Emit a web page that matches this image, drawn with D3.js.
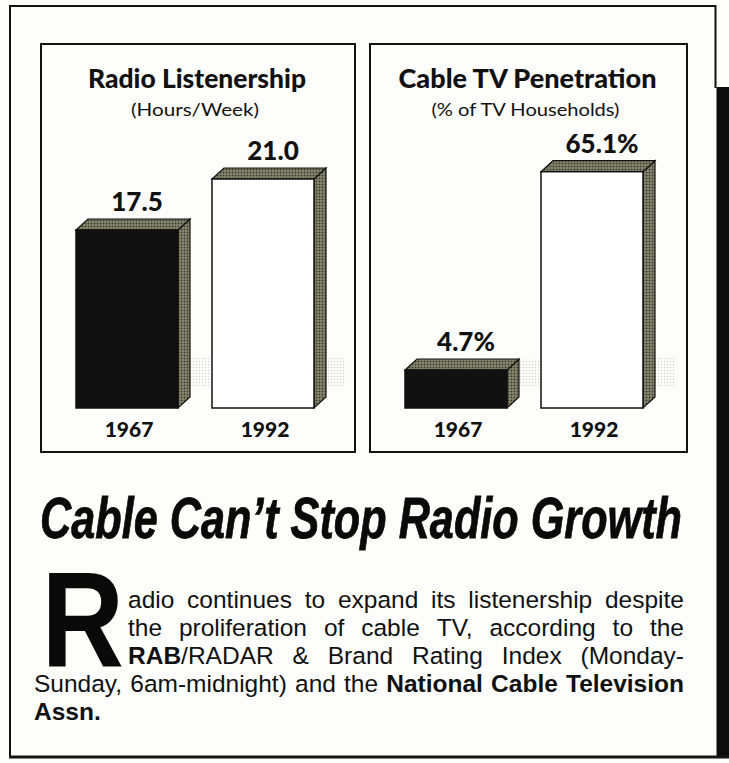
<!DOCTYPE html>
<html>
<head>
<meta charset="utf-8">
<script src="https://cdn.jsdelivr.net/npm/d3@7"></script>
<style>
	body { margin: 0; background: #fff; }
	svg { display: block; }
</style>
</head>
<body>
<svg id="chart"></svg>
<script>
const W = 729;
const H = 763;

const years = ["1967", "1992"];
const radioHours = [17.5, 21.0];
const cableShare = [4.7, 65.1];
const radioLabels = ["17.5", "21.0"];
const cableLabels = ["4.7%", "65.1%"];
const panelTitles = ["Radio Listenership", "Cable TV Penetration"];
const panelSubtitles = ["(Hours/Week)", "(% of TV Households)"];
const headline = "Cable Can\u2019t Stop Radio Growth";
const dropCap = "R";
// {..} marks bold words
const bodyLines = [
	"adio continues to expand its listenership despite",
	"the proliferation of cable TV, according to the",
	"{RAB}/RADAR & Brand Rating Index (Monday-",
	"Sunday, 6am-midnight) and the {National} {Cable} {Television}",
	"{Assn.}"
];

const barFills = ["#111", "#fff"];
const floorY = 408;
const depth = { dx: 12, dy: 11 };

// layout of the two boxes; base = value sitting on the floor line (the original is not zero based)
const panels = [
	{ left: 41, right: 355, values: radioHours, labels: radioLabels, base: 5.28, topY: 179 },
	{ left: 370, right: 687, values: cableShare, labels: cableLabels, base: -6.87, topY: 171.7 }
];

const svg = d3.select("#chart").attr("width", W).attr("height", H);

const defs = svg.append("defs");
let dots = defs.append("pattern").attr("id", "halftone")
	.attr("width", 3).attr("height", 3).attr("patternUnits", "userSpaceOnUse");
dots.append("rect").attr("width", 3).attr("height", 3).attr("fill", "#8a8a70");
dots.append("circle").attr("cx", 1.5).attr("cy", 1.5).attr("r", 1).attr("fill", "#3c3c32");

let shade = defs.append("pattern").attr("id", "shade")
	.attr("width", 3).attr("height", 3).attr("patternUnits", "userSpaceOnUse");
shade.append("circle").attr("cx", 1.5).attr("cy", 1.5).attr("r", 0.7).attr("fill", "#cfcfcf");

svg.append("rect").attr("width", W).attr("height", H).attr("fill", "#fdfdfc");

// outer frame with the heavy drop shadow on the right
svg.append("path")
	.attr("d", "M10,757 L10,6 L715.5,6 L715.5,88")
	.attr("fill", "none").attr("stroke", "#111").attr("stroke-width", 2);
svg.append("rect").attr("x", 716.5).attr("y", 87).attr("width", 12.5).attr("height", 671).attr("fill", "#0c0c0c");
svg.append("line").attr("x1", 9).attr("x2", 729).attr("y1", 757).attr("y2", 757)
	.attr("stroke", "#151515").attr("stroke-width", 3);

const titleFont = "font-family: Lato, 'Noto Sans', sans-serif; font-weight: 900; fill: #111;";

panels.forEach((p, pi) => {
	let g = svg.append("g");
	let cx = (p.left + p.right) / 2;

	g.append("rect")
		.attr("x", p.left).attr("y", 44)
		.attr("width", p.right - p.left).attr("height", 408)
		.attr("fill", "none").attr("stroke", "#111").attr("stroke-width", 2);

	g.append("text").text(panelTitles[pi])
		.attr("x", cx - 1).attr("y", 88)
		.attr("text-anchor", "middle")
		.attr("textLength", pi == 0 ? 218 : 258).attr("lengthAdjust", "spacingAndGlyphs")
		.attr("style", titleFont + " font-size: 27px;");
	g.append("text").text(panelSubtitles[pi])
		.attr("x", cx - 3).attr("y", 115.5)
		.attr("text-anchor", "middle")
		.attr("textLength", pi == 0 ? 128 : 188).attr("lengthAdjust", "spacingAndGlyphs")
		.attr("style", "font-family: Lato, 'Noto Sans', sans-serif; font-size: 18px; fill: #111;");

	let x = d3.scaleBand().domain(years).range([p.left + 35, p.left + 35 + 238]).paddingInner(0.25);
	let y = d3.scaleLinear().domain([p.base, d3.max(p.values)]).range([floorY, p.topY]);
	let bw = x.bandwidth();

	let data = years.map((yr, i) => ({ year: yr, value: p.values[i], label: p.labels[i], fill: barFills[i] }));
	let bars = g.selectAll("g.bar").data(data).enter().append("g").attr("class", "bar");

	// faint cast shadow on the floor
	bars.append("rect")
		.attr("x", d => x(d.year) + bw + depth.dx)
		.attr("y", d => Math.max(358, y(d.value) - depth.dy))
		.attr("width", 20)
		.attr("height", d => 386 - Math.max(358, y(d.value) - depth.dy))
		.attr("fill", "url(#shade)");

	bars.append("path")
		.attr("d", d => {
			let xr = x(d.year) + bw, y0 = y(d.value);
			return `M${xr},${y0}L${xr + depth.dx},${y0 - depth.dy}L${xr + depth.dx},${floorY - depth.dy}L${xr},${floorY}Z`;
		})
		.attr("fill", "url(#halftone)").attr("stroke", "#111").attr("stroke-width", 1.2);
	bars.append("path")
		.attr("d", d => {
			let xl = x(d.year), xr = xl + bw, y0 = y(d.value);
			return `M${xl},${y0}L${xl + depth.dx},${y0 - depth.dy}L${xr + depth.dx},${y0 - depth.dy}L${xr},${y0}Z`;
		})
		.attr("fill", "url(#halftone)").attr("stroke", "#111").attr("stroke-width", 1.2);
	bars.append("rect")
		.attr("x", d => x(d.year))
		.attr("y", d => y(d.value))
		.attr("width", bw)
		.attr("height", d => floorY - y(d.value))
		.attr("fill", d => d.fill).attr("stroke", "#111").attr("stroke-width", 1.5);

	bars.append("text").text(d => d.label)
		.attr("x", d => x(d.year) + bw / 2 + 10)
		.attr("y", d => y(d.value) - 19)
		.attr("text-anchor", "middle")
		.attr("style", titleFont + " font-size: 26px;");
	bars.append("text").text(d => d.year)
		.attr("x", d => x(d.year) + bw / 2 + 2)
		.attr("y", 436.5)
		.attr("text-anchor", "middle")
		.attr("style", titleFont + " font-size: 21px;");
});

// headline
svg.append("text").text(headline)
	.attr("x", 40).attr("y", 538)
	.attr("textLength", 642).attr("lengthAdjust", "spacingAndGlyphs")
	.attr("style", "font-family: 'Liberation Sans', Arial, sans-serif; font-weight: 700; font-style: italic; font-size: 58px; fill: #0a0a0a; stroke: #0a0a0a; stroke-width: 0.8px;");

// drop cap, squeezed sideways
let capSize = 136, capScale = 0.84;
svg.append("text").text(dropCap)
	.attr("transform", `translate(${50 - 0.074 * capSize * capScale},666) scale(${capScale},1)`)
	.attr("style", `font-family: 'Liberation Sans', Arial, sans-serif; font-weight: 700; font-size: ${capSize}px; fill: #0a0a0a;`);

// justified body copy
const bodyFont = "font-family: 'Liberation Sans', Arial, sans-serif; font-size: 24.5px; fill: #111;";
const lineRight = 684;
bodyLines.forEach((line, li) => {
	let left = li < 3 ? 128 : 34;
	let baseline = 608 + li * 28;
	let words = line.split(" ").map(w => {
		let segs = [];
		w.replace(/\{([^}]*)\}|([^{]+)/g, (m, b, r) => { segs.push(b !== undefined ? { t: b, bold: true } : { t: r, bold: false }); });
		return segs;
	});
	let nodes = words.map(segs => {
		let t = svg.append("text").attr("y", baseline).attr("style", bodyFont);
		segs.forEach(s => t.append("tspan").text(s.t).attr("font-weight", s.bold ? 700 : 400));
		return t;
	});
	let widths = nodes.map(n => n.node().getComputedTextLength());
	let total = d3.sum(widths);
	let justify = li < bodyLines.length - 1;
	let gap = justify && nodes.length > 1 ? (lineRight - left - total) / (nodes.length - 1) : 6.8;
	let cursor = left;
	nodes.forEach((n, i) => {
		n.attr("x", cursor);
		cursor += widths[i] + gap;
	});
});
</script>
</body>
</html>
